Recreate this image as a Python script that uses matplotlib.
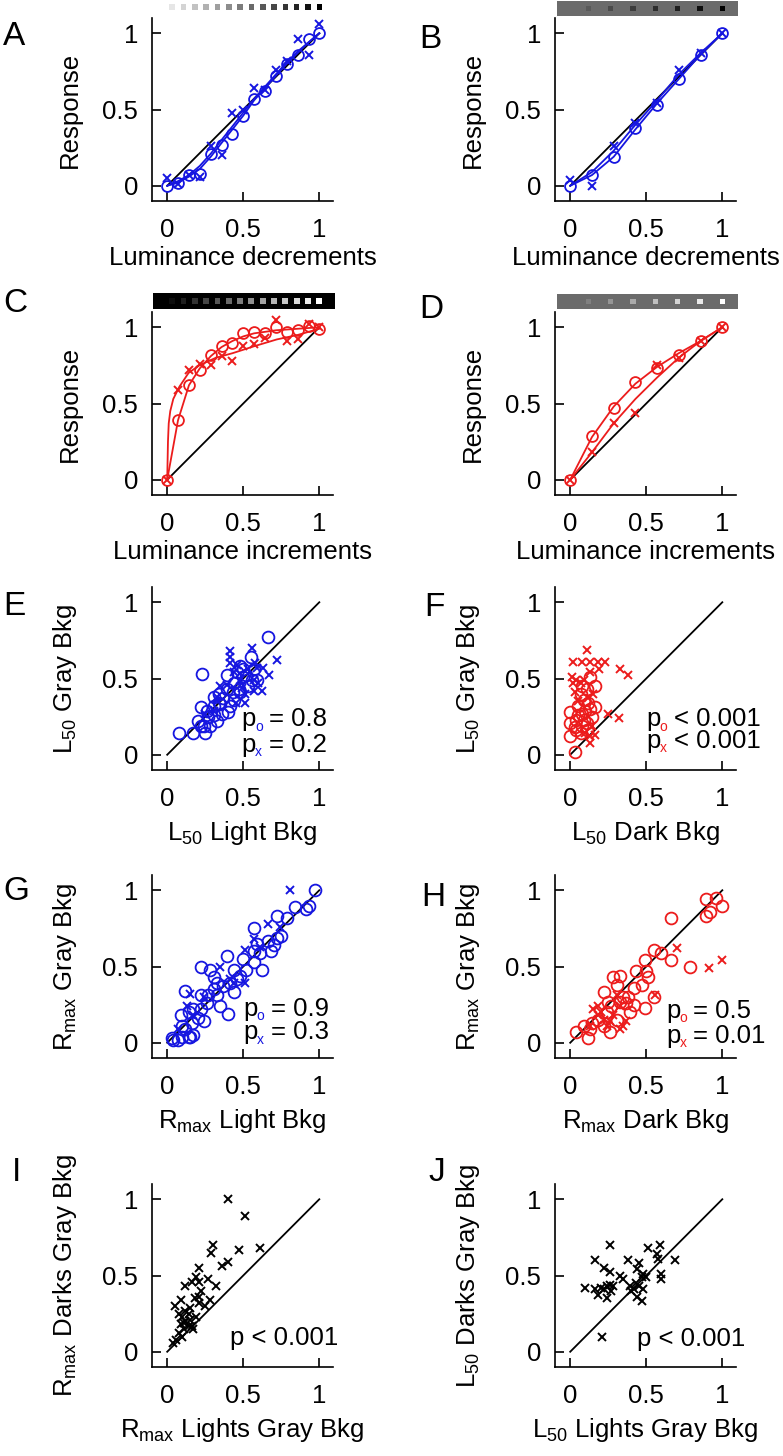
import numpy as np
import matplotlib.pyplot as plt
from matplotlib.patches import Rectangle

plt.rcParams['font.family'] = ['Liberation Sans', 'DejaVu Sans']
plt.rcParams['mathtext.default'] = 'regular'

BLUE = '#1616e0'
RED = '#ec1c1c'

# ---- panels A-D: contrast response data ----
lum15 = [0, 0.071, 0.143, 0.214, 0.286, 0.357, 0.429, 0.5, 0.571, 0.643, 0.714, 0.786, 0.857, 0.929, 1.0]
lum8 = [0, 0.143, 0.286, 0.429, 0.571, 0.714, 0.857, 1.0]

a_o = [0.00, 0.02, 0.07, 0.08, 0.21, 0.27, 0.34, 0.46, 0.57, 0.62, 0.72, 0.80, 0.86, 0.96, 1.00]
a_x = [0.05, 0.01, 0.07, 0.06, 0.26, 0.20, 0.48, 0.50, 0.64, 0.63, 0.76, 0.82, 0.96, 0.86, 1.06]
a_fit_o = [0.0, 0.02, 0.06, 0.11, 0.19, 0.28, 0.37, 0.46, 0.56, 0.64, 0.72, 0.80, 0.87, 0.94, 1.0]
a_fit_x = [0.0, 0.03, 0.07, 0.13, 0.21, 0.30, 0.39, 0.48, 0.57, 0.65, 0.73, 0.81, 0.88, 0.94, 1.0]

b_o = [0.0, 0.07, 0.19, 0.38, 0.53, 0.70, 0.86, 1.0]
b_x = [0.04, 0.0, 0.26, 0.41, 0.54, 0.76, 0.87, 1.0]
b_fit_o = [0.0, 0.07, 0.19, 0.37, 0.54, 0.70, 0.86, 1.0]
b_fit_x = [0.0, 0.09, 0.23, 0.40, 0.56, 0.73, 0.87, 1.0]

c_o = [0.0, 0.39, 0.62, 0.72, 0.82, 0.875, 0.90, 0.96, 0.97, 0.96, 1.0, 0.97, 0.98, 1.01, 0.99]
c_x = [0.0, 0.59, 0.72, 0.76, 0.755, 0.81, 0.78, 0.875, 0.89, 0.93, 1.05, 0.91, 0.92, 1.02, 1.0]
c_fit_o = [0.0, 0.39, 0.62, 0.73, 0.81, 0.87, 0.91, 0.94, 0.96, 0.97, 0.98, 0.985, 0.99, 0.995, 1.0]
c_fit_x_lum = [0, 0.005, 0.01, 0.02, 0.04, 0.08, 0.14, 0.21, 0.32, 0.43, 0.57, 0.72, 0.86, 1.0]
c_fit_x = [0.0, 0.25, 0.37, 0.45, 0.53, 0.61, 0.70, 0.75, 0.80, 0.83, 0.875, 0.92, 0.95, 0.99]

d_o = [0.0, 0.29, 0.47, 0.64, 0.73, 0.82, 0.91, 1.0]
d_x = [0.0, 0.18, 0.37, 0.44, 0.755, 0.80, 0.91, 1.0]
d_fit_o = [0.0, 0.28, 0.48, 0.63, 0.74, 0.83, 0.91, 1.0]
d_fit_x = [0.0, 0.18, 0.37, 0.53, 0.67, 0.80, 0.91, 1.0]

# ---- panels E-J: population scatter (x, y) ----
e_o = [(0.08, 0.14), (0.17, 0.14), (0.20, 0.22), (0.23, 0.53), (0.22, 0.31), (0.25, 0.14), (0.24, 0.19),
       (0.27, 0.25), (0.31, 0.38), (0.31, 0.32), (0.34, 0.40), (0.35, 0.33), (0.33, 0.22), (0.37, 0.37),
       (0.40, 0.28), (0.39, 0.52), (0.43, 0.41), (0.44, 0.47), (0.47, 0.43), (0.48, 0.58), (0.50, 0.51),
       (0.52, 0.52), (0.53, 0.45), (0.55, 0.64), (0.57, 0.56), (0.59, 0.49), (0.66, 0.77), (0.39, 0.43),
       (0.36, 0.27), (0.28, 0.19), (0.44, 0.36), (0.48, 0.41), (0.31, 0.26), (0.50, 0.56), (0.56, 0.49),
       (0.46, 0.54), (0.41, 0.32), (0.34, 0.34), (0.26, 0.29), (0.22, 0.19)]
e_x = [(0.41, 0.68), (0.41, 0.64), (0.41, 0.60), (0.56, 0.70), (0.72, 0.62), (0.67, 0.52), (0.62, 0.42),
       (0.57, 0.42), (0.51, 0.34), (0.63, 0.57), (0.59, 0.57), (0.48, 0.49), (0.53, 0.56), (0.45, 0.34),
       (0.57, 0.49), (0.44, 0.54), (0.35, 0.45), (0.39, 0.46), (0.46, 0.59), (0.51, 0.40), (0.60, 0.47),
       (0.33, 0.38), (0.49, 0.44), (0.58, 0.60), (0.31, 0.29), (0.25, 0.27)]

f_o = [(0.03, 0.02), (0.00, 0.12), (0.00, 0.21), (0.00, 0.28), (0.03, 0.18), (0.05, 0.26), (0.08, 0.19),
       (0.09, 0.36), (0.11, 0.43), (0.13, 0.51), (0.16, 0.45), (0.16, 0.31), (0.14, 0.25), (0.08, 0.45),
       (0.07, 0.14), (0.05, 0.32), (0.10, 0.29), (0.04, 0.23), (0.11, 0.21), (0.08, 0.27), (0.12, 0.34),
       (0.09, 0.23), (0.04, 0.16), (0.11, 0.16), (0.07, 0.40), (0.13, 0.30)]
f_x = [(0.11, 0.69), (0.02, 0.61), (0.08, 0.61), (0.13, 0.61), (0.18, 0.61), (0.23, 0.61), (0.19, 0.56),
       (0.33, 0.56), (0.38, 0.52), (0.25, 0.27), (0.32, 0.24), (0.01, 0.51), (0.02, 0.47), (0.03, 0.41),
       (0.13, 0.08), (0.13, 0.12), (0.14, 0.19), (0.05, 0.35), (0.09, 0.49), (0.07, 0.47), (0.12, 0.37),
       (0.15, 0.40), (0.13, 0.54), (0.10, 0.14), (0.04, 0.49), (0.16, 0.13)]

g_o = [(0.03, 0.03), (0.07, 0.02), (0.10, 0.04), (0.14, 0.04), (0.17, 0.05), (0.09, 0.18), (0.14, 0.20),
       (0.12, 0.34), (0.22, 0.50), (0.28, 0.48), (0.39, 0.57), (0.40, 0.19), (0.31, 0.43), (0.44, 0.33),
       (0.48, 0.44), (0.57, 0.53), (0.62, 0.48), (0.57, 0.75), (0.59, 0.65), (0.66, 0.67), (0.70, 0.64),
       (0.72, 0.83), (0.75, 0.70), (0.79, 0.82), (0.84, 0.89), (0.91, 0.88), (0.93, 0.90), (0.97, 1.00),
       (0.61, 0.59), (0.68, 0.60), (0.72, 0.69), (0.33, 0.31), (0.37, 0.37), (0.41, 0.39), (0.22, 0.22),
       (0.20, 0.16), (0.26, 0.26), (0.16, 0.13), (0.12, 0.09), (0.24, 0.14), (0.35, 0.24), (0.46, 0.42),
       (0.52, 0.48), (0.33, 0.39), (0.27, 0.31), (0.17, 0.22), (0.22, 0.31), (0.10, 0.11), (0.15, 0.04),
       (0.04, 0.02), (0.57, 0.60), (0.50, 0.55), (0.44, 0.48), (0.31, 0.35)]
g_x = [(0.81, 1.00), (0.51, 0.61), (0.51, 0.39), (0.66, 0.78), (0.74, 0.76), (0.35, 0.50), (0.13, 0.24),
       (0.17, 0.18), (0.24, 0.30), (0.41, 0.42), (0.57, 0.68), (0.44, 0.39), (0.15, 0.32), (0.07, 0.09),
       (0.61, 0.63)]

h_o = [(0.66, 0.82), (0.89, 0.94), (0.96, 0.95), (1.00, 0.90), (0.89, 0.83), (0.92, 0.86), (0.55, 0.61),
       (0.60, 0.59), (0.66, 0.54), (0.79, 0.50), (0.49, 0.54), (0.43, 0.47), (0.50, 0.47), (0.51, 0.43),
       (0.47, 0.38), (0.42, 0.36), (0.33, 0.44), (0.28, 0.43), (0.31, 0.38), (0.22, 0.33), (0.35, 0.30),
       (0.37, 0.26), (0.42, 0.25), (0.49, 0.23), (0.55, 0.30), (0.27, 0.24), (0.04, 0.07), (0.12, 0.03),
       (0.09, 0.11), (0.26, 0.07), (0.18, 0.15), (0.22, 0.11), (0.13, 0.09), (0.33, 0.27), (0.25, 0.27),
       (0.38, 0.30), (0.14, 0.13), (0.31, 0.15), (0.24, 0.20), (0.39, 0.20)]
h_x = [(0.70, 0.62), (0.91, 0.49), (1.00, 0.54), (0.18, 0.24), (0.18, 0.18), (0.37, 0.14), (0.33, 0.09),
       (0.22, 0.15), (0.56, 0.31), (0.31, 0.31), (0.13, 0.11), (0.24, 0.11), (0.35, 0.11), (0.20, 0.20),
       (0.28, 0.18), (0.33, 0.24), (0.15, 0.22), (0.26, 0.14)]

i_x = [(0.40, 1.00), (0.51, 0.89), (0.30, 0.70), (0.29, 0.65), (0.47, 0.67), (0.61, 0.68), (0.40, 0.59),
       (0.36, 0.56), (0.32, 0.43), (0.21, 0.55), (0.27, 0.48), (0.16, 0.46), (0.22, 0.40), (0.12, 0.43),
       (0.09, 0.34), (0.05, 0.30), (0.18, 0.35), (0.28, 0.34), (0.21, 0.32), (0.15, 0.29), (0.10, 0.23),
       (0.12, 0.20), (0.09, 0.18), (0.16, 0.17), (0.08, 0.12), (0.06, 0.08), (0.04, 0.06), (0.14, 0.25),
       (0.11, 0.15), (0.17, 0.15), (0.15, 0.21), (0.11, 0.19), (0.19, 0.23), (0.08, 0.25), (0.21, 0.36),
       (0.25, 0.30), (0.12, 0.27), (0.14, 0.17), (0.10, 0.10), (0.21, 0.46), (0.19, 0.49)]

j_x = [(0.10, 0.42), (0.16, 0.60), (0.22, 0.55), (0.26, 0.70), (0.21, 0.10), (0.26, 0.52), (0.16, 0.41),
       (0.18, 0.37), (0.22, 0.41), (0.24, 0.43), (0.26, 0.44), (0.27, 0.40), (0.24, 0.35), (0.33, 0.50),
       (0.35, 0.48), (0.38, 0.60), (0.45, 0.58), (0.44, 0.54), (0.39, 0.43), (0.42, 0.41), (0.44, 0.36),
       (0.47, 0.33), (0.43, 0.45), (0.48, 0.41), (0.50, 0.49), (0.51, 0.68), (0.59, 0.70), (0.57, 0.64),
       (0.58, 0.61), (0.69, 0.60), (0.60, 0.51), (0.60, 0.48), (0.47, 0.49), (0.45, 0.43), (0.40, 0.40),
       (0.20, 0.42), (0.28, 0.43), (0.48, 0.51)]

W, H = 783, 1456
fig = plt.figure(figsize=(W / 100, H / 100), dpi=100)

AX_W, AX_H = 181, 183
COL_LEFT = [152, 555]
ROW_BOTTOM = [201, 495, 770, 1058, 1367]
FS = 18.5


def make_axes(col, row):
    return fig.add_axes([COL_LEFT[col] / W, 1 - ROW_BOTTOM[row] / H, AX_W / W, AX_H / H])


def style(ax, xlabel, ylabel, xpad, ypad):
    ax.set_xlim(-0.1, 1.09)
    ax.set_ylim(-0.1, 1.1)
    for s in ['top', 'right']:
        ax.spines[s].set_visible(False)
    for s in ['left', 'bottom']:
        ax.spines[s].set_linewidth(1.2)
    ax.set_xticks([0, 0.5, 1])
    ax.set_xticklabels(['0', '0.5', '1'])
    ax.set_yticks([0, 0.5, 1])
    ax.set_yticklabels(['0', '0.5', '1'])
    ax.tick_params(direction='in', length=6.5, width=1.2, labelsize=FS)
    ax.tick_params(axis='x', pad=12)
    ax.tick_params(axis='y', pad=10)
    ax.set_xlabel(xlabel, fontsize=FS, labelpad=xpad)
    ax.set_ylabel(ylabel, fontsize=FS, labelpad=ypad)
    ax.plot([0, 1], [0, 1], color='black', lw=1.3, zorder=1)


def bar(col, top_px, bot_px, bg, x0, x1, sq_x, sq_colors, size):
    bax = fig.add_axes([COL_LEFT[col] / W, 1 - bot_px / H, AX_W / W, (bot_px - top_px) / H])
    bax.set_xlim(-0.1, 1.09)
    bax.set_ylim(0, 1)
    bax.axis('off')
    if bg is not None:
        bax.add_patch(Rectangle((x0, 0), x1 - x0, 1, color=bg, clip_on=False, lw=0))
    bax.scatter(sq_x, [0.5] * len(sq_x), marker='s', s=size, c=sq_colors, linewidths=0, clip_on=False)


def curve_panel(ax, lum, yo, yx, fit_lum_o, fit_o, fit_lum_x, fit_x, color):
    ax.plot(fit_lum_o, fit_o, color=color, lw=1.3, zorder=2)
    ax.plot(fit_lum_x, fit_x, color=color, lw=1.3, zorder=2)
    ax.plot(lum, yo, 'o', ms=7.8, mfc='none', mec=color, mew=1.3, zorder=3)
    ax.plot(lum, yx, 'x', ms=5.8, mec=color, mew=1.4, zorder=3)


def scatter_panel(ax, circles, crosses, color):
    if circles:
        c = np.array(circles)
        ax.plot(c[:, 0], c[:, 1], 'o', ms=8.5, mfc='none', mec=color, mew=1.3, zorder=3)
    if crosses:
        x = np.array(crosses)
        ax.plot(x[:, 0], x[:, 1], 'x', ms=5.8, mec=color, mew=1.4, zorder=3)


def p_lines(ax, x, y1, y2, rest1, rest2, color):
    for y, sub, rest in [(y1, 'o', rest1), (y2, 'x', rest2)]:
        ax.text(x, y, 'p', fontsize=FS, va='baseline')
        ax.text(x + 0.088, y - 0.028, sub, fontsize=10, color=color, va='baseline')
        ax.text(x + 0.18, y, rest, fontsize=FS, va='baseline')


# A
ax = make_axes(0, 0)
style(ax, 'Luminance decrements', 'Response', 3, 15)
curve_panel(ax, lum15, a_o, a_x, lum15, a_fit_o, lum15, a_fit_x, BLUE)
bar(0, 0, 14, None, 0, 0, np.linspace(0.033, 1.0, 14),
    [str(v) for v in np.linspace(0.9, 0.0, 14)], 16)

# B
ax = make_axes(1, 0)
style(ax, 'Luminance decrements', 'Response', 3, 15)
curve_panel(ax, lum8, b_o, b_x, lum8, b_fit_o, lum8, b_fit_x, BLUE)
bar(1, 1, 16, '0.42', -0.085, 1.105, np.linspace(0.12, 1.0, 7),
    [str(v) for v in np.linspace(0.35, 0.0, 7)], 14)

# C
ax = make_axes(0, 1)
style(ax, 'Luminance increments', 'Response', 3, 15)
curve_panel(ax, lum15, c_o, c_x, lum15, c_fit_o, c_fit_x_lum, c_fit_x, RED)
bar(0, 293, 309, 'black', -0.092, 1.10, np.linspace(0.033, 1.0, 14),
    [str(v) for v in np.linspace(0.05, 1.0, 14)], 18)

# D
ax = make_axes(1, 1)
style(ax, 'Luminance increments', 'Response', 3, 15)
curve_panel(ax, lum8, d_o, d_x, lum8, d_fit_o, lum8, d_fit_x, RED)
bar(1, 294, 309, '0.42', -0.085, 1.105, np.linspace(0.12, 1.0, 7),
    [str(v) for v in np.linspace(0.5, 1.0, 7)], 14)

# E
ax = make_axes(0, 2)
style(ax, r'L$_{50}$ Light Bkg', r'L$_{50}$ Gray Bkg', 6, 17)
scatter_panel(ax, e_o, e_x, BLUE)
p_lines(ax, 0.49, 0.187, 0.018, '= 0.8', '= 0.2', BLUE)

# F
ax = make_axes(1, 2)
style(ax, r'L$_{50}$ Dark Bkg', r'L$_{50}$ Gray Bkg', 6, 17)
scatter_panel(ax, f_o, f_x, RED)
p_lines(ax, 0.50, 0.187, 0.044, '< 0.001', '< 0.001', RED)

# G
ax = make_axes(0, 3)
style(ax, r'R$_{max}$ Light Bkg', r'R$_{max}$ Gray Bkg', 6, 17)
scatter_panel(ax, g_o, g_x, BLUE)
p_lines(ax, 0.50, 0.175, 0.022, '= 0.9', '= 0.3', BLUE)

# H
ax = make_axes(1, 3)
style(ax, r'R$_{max}$ Dark Bkg', r'R$_{max}$ Gray Bkg', 6, 17)
scatter_panel(ax, h_o, h_x, RED)
p_lines(ax, 0.63, 0.164, 0.0, '= 0.5', '= 0.01', RED)

# I
ax = make_axes(0, 4)
style(ax, r'R$_{max}$ Lights Gray Bkg', r'R$_{max}$ Darks Gray Bkg', 6, 17)
scatter_panel(ax, None, i_x, 'black')
ax.text(0.41, 0.044, 'p < 0.001', fontsize=FS, va='baseline')

# J
ax = make_axes(1, 4)
style(ax, r'L$_{50}$ Lights Gray Bkg', r'L$_{50}$ Darks Gray Bkg', 6, 17)
scatter_panel(ax, None, j_x, 'black')
ax.text(0.44, 0.037, 'p < 0.001', fontsize=FS, va='baseline')

# panel letters
letters = [('A', 3, 21), ('B', 419, 24), ('C', 3, 288), ('D', 419, 294), ('E', 3, 591),
           ('F', 424, 592), ('G', 3, 876), ('H', 421, 882), ('I', 12, 1157), ('J', 428, 1157)]
for lab, xp, yp in letters:
    fig.text(xp / W, 1 - yp / H, lab, fontsize=24, ha='left', va='top')

fig.savefig('out.png', dpi=100)
